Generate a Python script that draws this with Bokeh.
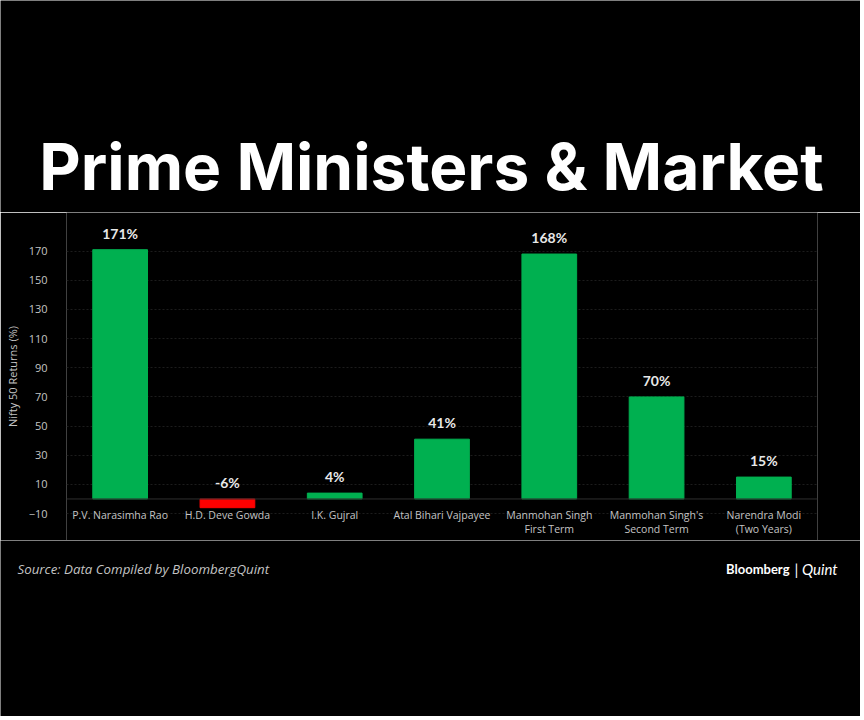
from bokeh.plotting import figure
from bokeh.layouts import column
from bokeh.models import Span, FactorRange, Range1d, FixedTicker, ColumnDataSource
from bokeh.core.properties import value
from bokeh.embed import file_html
from bokeh.resources import INLINE

title_text = "Prime Ministers & Market"
source_text = "Source: Data Compiled by BloombergQuint"
categories = ["P.V. Narasimha Rao", "H.D. Deve Gowda", "I.K. Gujral", "Atal Bihari Vajpayee",
              "Manmohan Singh First Term", "Manmohan Singh's Second Term", "Narendra Modi (Two Years)"]
cat_labels = ["P.V. Narasimha Rao", "H.D. Deve Gowda", "I.K. Gujral", "Atal Bihari Vajpayee",
              "Manmohan Singh\nFirst Term", "Manmohan Singh's\nSecond Term", "Narendra Modi\n(Two Years)"]
returns = [171, -6, 4, 41, 168, 70, 15]
value_labels = ["171%", "-6%", "4%", "41%", "168%", "70%", "15%"]
y_ticks = [-10, 10, 30, 50, 70, 90, 110, 130, 150, 170]

GREEN = "#00b050"
RED = "#ff0000"
W = 860


def blank(h):
    f = figure(width=W, height=h, x_range=Range1d(0, W), y_range=Range1d(h, 0),
               output_backend="svg", toolbar_location=None,
               background_fill_color="black", border_fill_color="black",
               min_border=0, outline_line_color=None)
    f.frame_align = False
    f.axis.visible = False
    f.grid.visible = False
    f.outline_line_alpha = 0
    return f


# ---- title strip ----
t = blank(212)
t.text(x=[431], y=[166], text=[title_text], text_color="white", text_font=value("Inter"),
       text_font_style="bold", text_font_size="64px", text_align="center",
       text_baseline="middle")

# ---- chart ----
colors = [GREEN if v >= 0 else RED for v in returns]
label_y = [max(v, 0) for v in returns]
src = ColumnDataSource(dict(cat=categories, top=returns, color=colors,
                            ly=label_y, lab=value_labels, clab=cat_labels,
                            cy=[-10] * len(categories)))

p = figure(width=W, height=328, x_range=FactorRange(*categories), y_range=Range1d(-28.5, 196.5),
           output_backend="svg", toolbar_location=None,
           background_fill_color="black", border_fill_color="black", outline_line_color=None,
           min_border_left=66, min_border_right=W - 817, min_border_top=0, min_border_bottom=0)
p.frame_align = False
p.outline_line_alpha = 0

p.ygrid.ticker = FixedTicker(ticks=y_ticks)
p.ygrid.grid_line_color = "#1c1c1c"
p.ygrid.grid_line_dash = "2 2"
p.xgrid.visible = False
p.add_layout(Span(location=0, dimension="width", line_color="#2e2e2e", line_width=1))

p.vbar(x="cat", top="top", bottom=0, width=0.51, color="color", source=src)

p.text(x="cat", y="ly", text="lab", source=src, text_color="#e8e8e8", text_font=value("Lato"),
       text_font_style="bold", text_font_size="14px", text_align="center", text_baseline="bottom",
       y_offset=-8)
p.text(x="cat", y="cy", text="clab", source=src, text_color="#c4c4c4", text_font=value("Open Sans"),
       text_font_size="10.5px", text_align="center", text_baseline="top", text_line_height=1.0,
       y_offset=-6)

p.xaxis.visible = False
ax = p.yaxis[0]
ax.ticker = FixedTicker(ticks=y_ticks)
ax.axis_line_color = None
ax.major_tick_line_color = None
ax.minor_tick_line_color = None
ax.major_label_text_color = "#c4c4c4"
ax.major_label_text_font = "Open Sans"
ax.major_label_text_font_size = "11px"
ax.major_label_standoff = 13
ax.axis_label = "Nifty 50 Returns (%)"
ax.axis_label_text_color = "#c4c4c4"
ax.axis_label_text_font = "Open Sans"
ax.axis_label_text_font_style = "normal"
ax.axis_label_text_font_size = "11px"
ax.axis_label_standoff = 6

# ---- footer ----
fo = blank(176)
fo.text(x=[17], y=[28], text=[source_text], text_color="#c4c4c4", text_font=value("Open Sans"),
        text_font_style="italic", text_font_size="13.3px", text_align="left", text_baseline="middle")
fo.text(x=[789], y=[28], text=["Bloomberg"], text_color="white", text_font=value("Lato"),
        text_font_style="bold", text_font_size="13px", text_align="right", text_baseline="middle")
fo.text(x=[794], y=[28], text=["| Quint"], text_color="white", text_font=value("Lato"),
        text_font_style="italic", text_font_size="15px", text_align="left", text_baseline="middle")

layout = column(t, p, fo, spacing=0)
html = file_html(layout, INLINE)
html = html.replace("<body>", '<body style="background-color:black;">', 1)
open("out.html", "w").write(html)
